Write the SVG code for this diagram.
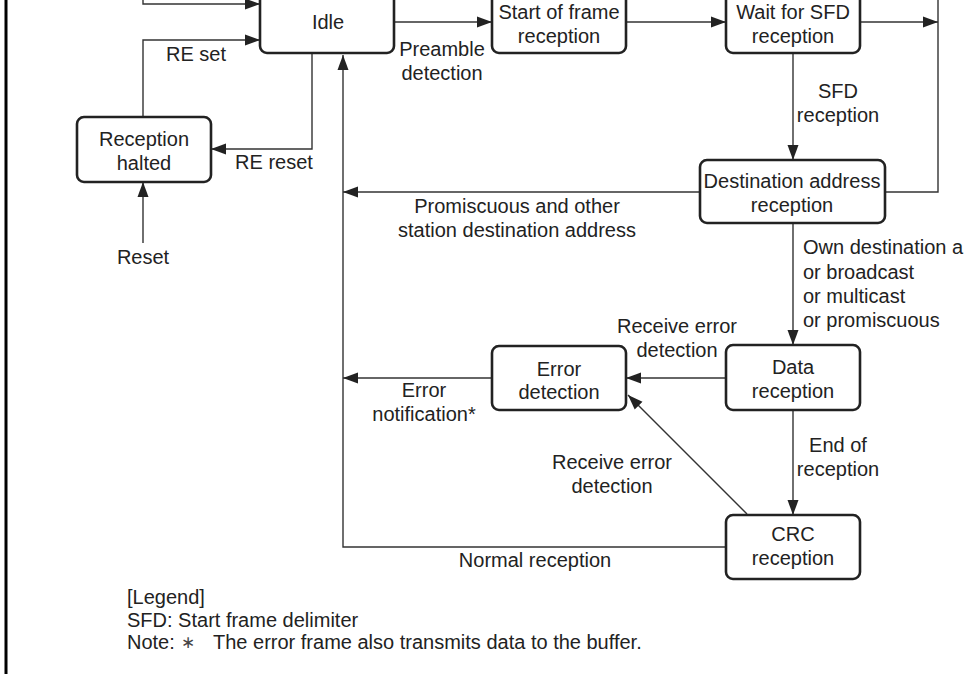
<svg xmlns="http://www.w3.org/2000/svg" width="964" height="674" viewBox="0 0 964 674">
<style>
text{font-family:"Liberation Sans",Arial,sans-serif;font-size:20px;fill:#222}
.c{text-anchor:middle}
.box{fill:#fff;stroke:#222;stroke-width:2.6}
.ln{fill:none;stroke:#333;stroke-width:1.4}
.ar{marker-end:url(#ah)}
</style>
<defs>
<marker id="ah" markerUnits="userSpaceOnUse" markerWidth="16" markerHeight="12" refX="15" refY="6" orient="auto">
<path d="M0,0.5 L15,6 L0,11.5 z" fill="#222"/>
</marker>
</defs>
<rect width="964" height="674" fill="#fff"/>
<line x1="6" y1="0" x2="6" y2="674" stroke="#000" stroke-width="3"/>
<g id="connectors">
<polyline class="ln ar" points="143,0 143,4 260,4"/>
<polyline class="ln ar" points="143,117 143,40 260,40"/>
<polyline class="ln ar" points="312,53 312,149 211,149"/>
<line class="ln ar" x1="143" y1="243" x2="143" y2="182"/>
<line class="ln ar" x1="394" y1="22" x2="492" y2="22"/>
<line class="ln ar" x1="626" y1="22" x2="726" y2="22"/>
<line class="ln ar" x1="860" y1="22" x2="938" y2="22"/>
<polyline class="ln" points="938,0 938,192 885,192"/>
<line class="ln ar" x1="793" y1="53" x2="793" y2="160"/>
<line class="ln ar" x1="700" y1="192" x2="343" y2="192"/>
<line class="ln ar" x1="793" y1="223" x2="793" y2="345"/>
<line class="ln ar" x1="726" y1="378" x2="626" y2="378"/>
<line class="ln ar" x1="492" y1="378" x2="343" y2="378"/>
<line class="ln ar" x1="793" y1="410" x2="793" y2="515"/>
<line class="ln ar" x1="747" y1="514" x2="628" y2="395"/>
<polyline class="ln ar" points="726,547 343,547 343,55"/>
</g>
<g id="idle"><rect class="box" x="260" y="-12" width="134" height="65" rx="7"/><text class="c" x="328" y="29">Idle</text></g>
<g id="start-frame"><rect class="box" x="492" y="-12" width="134" height="65" rx="7"/><text class="c" x="559" y="19">Start of frame</text><text class="c" x="559" y="43">reception</text></g>
<g id="wait-sfd"><rect class="box" x="726" y="-12" width="134" height="65" rx="7"/><text class="c" x="793" y="19">Wait for SFD</text><text class="c" x="793" y="43">reception</text></g>
<g id="reception-halted"><rect class="box" x="77" y="117" width="134" height="65" rx="7"/><text class="c" x="144" y="146">Reception</text><text class="c" x="144" y="170">halted</text></g>
<g id="dest-addr"><rect class="box" x="700" y="160" width="185" height="63" rx="7"/><text class="c" x="792" y="188">Destination address</text><text class="c" x="792" y="212">reception</text></g>
<g id="data"><rect class="box" x="726" y="345" width="134" height="65" rx="7"/><text class="c" x="793" y="374">Data</text><text class="c" x="793" y="398">reception</text></g>
<g id="error-det"><rect class="box" x="492" y="346" width="134" height="64" rx="7"/><text class="c" x="559" y="376">Error</text><text class="c" x="559" y="399">detection</text></g>
<g id="crc"><rect class="box" x="726" y="515" width="134" height="64" rx="7"/><text class="c" x="793" y="541">CRC</text><text class="c" x="793" y="565">reception</text></g>
<g id="labels">
<text class="c" x="196" y="61">RE set</text>
<text class="c" x="274" y="169">RE reset</text>
<text class="c" x="143" y="264">Reset</text>
<text class="c" x="442" y="56">Preamble</text>
<text class="c" x="442" y="80">detection</text>
<text class="c" x="838" y="98">SFD</text>
<text class="c" x="838" y="122">reception</text>
<text class="c" x="517" y="213">Promiscuous and other</text>
<text class="c" x="517" y="237">station destination address</text>
<text x="803" y="254">Own destination a</text>
<text x="803" y="279">or broadcast</text>
<text x="803" y="303">or multicast</text>
<text x="803" y="327">or promiscuous</text>
<text class="c" x="677" y="333">Receive error</text>
<text class="c" x="677" y="357">detection</text>
<text class="c" x="424" y="397">Error</text>
<text class="c" x="424" y="421">notification*</text>
<text class="c" x="612" y="469">Receive error</text>
<text class="c" x="612" y="493">detection</text>
<text class="c" x="838" y="452">End of</text>
<text class="c" x="838" y="476">reception</text>
<text class="c" x="535" y="567">Normal reception</text>
</g>
<g id="legend">
<text x="127" y="604">[Legend]</text>
<text x="127" y="627">SFD: Start frame delimiter</text>
<text x="127" y="649">Note:</text>
<text class="c" x="188" y="648" style="font-size:17px;fill:#444">∗</text>
<text x="213" y="649">The error frame also transmits data to the buffer.</text>
</g>
</svg>
